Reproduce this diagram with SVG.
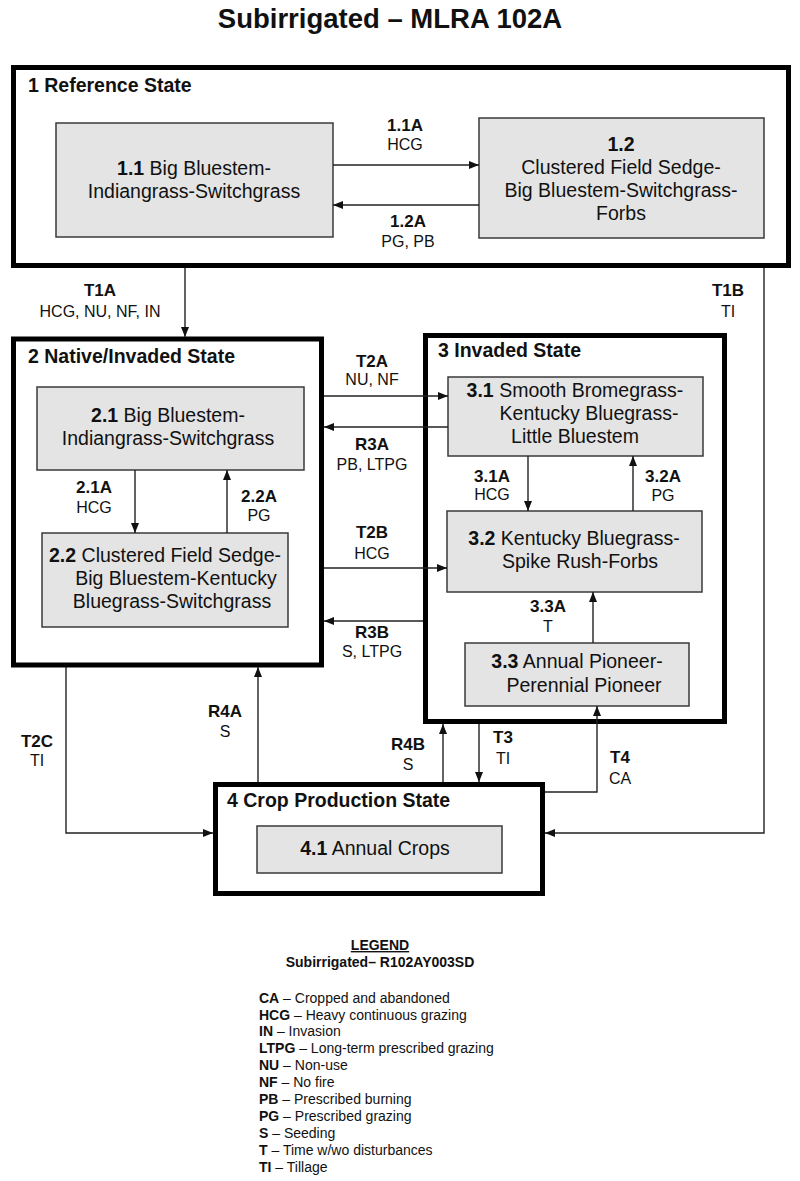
<svg xmlns="http://www.w3.org/2000/svg" width="800" height="1181" viewBox="0 0 800 1181">
<style>
text{font-family:"Liberation Sans",Arial,sans-serif;fill:#111}
.title{font-size:27.5px;font-weight:bold;text-anchor:middle}
.st{font-size:19.5px;font-weight:bold}
.node{fill:#e4e4e4;stroke:#3a3a3a;stroke-width:1.5}
.state{fill:none;stroke:#000;stroke-width:5}
.nt{font-size:19.5px;text-anchor:middle}
.b{font-weight:bold}
.lb{font-size:17px;font-weight:bold;text-anchor:middle}
.ls{font-size:16px;text-anchor:middle}
.conn path{fill:none;stroke:#222;stroke-width:1.4}
.lg{font-size:14px}
</style>
<defs>
<marker id="ah" markerUnits="userSpaceOnUse" markerWidth="10" markerHeight="10" viewBox="0 0 10 10" refX="10" refY="5" orient="auto">
<path d="M0,1 L10,5 L0,9 Z" fill="#111"/>
</marker>
</defs>
<rect width="800" height="1181" fill="#fff"/>
<text class="title" x="390" y="28">Subirrigated  – MLRA 102A</text>

<g id="state1">
<rect class="state" x="13.5" y="67.5" width="775" height="198"/>
<text class="st" x="28" y="92">1 Reference State</text>
</g>
<g id="n11">
<rect class="node" x="56" y="123" width="277" height="114"/>
<text class="nt" x="194" y="175"><tspan class="b">1.1</tspan> Big Bluestem-</text>
<text class="nt" x="194" y="198">Indiangrass-Switchgrass</text>
</g>
<g id="n12">
<rect class="node" x="479" y="118" width="285" height="120"/>
<text class="nt b" x="621" y="151">1.2</text>
<text class="nt" x="621" y="174">Clustered Field Sedge-</text>
<text class="nt" x="621" y="197">Big Bluestem-Switchgrass-</text>
<text class="nt" x="621" y="220">Forbs</text>
</g>

<g id="state2">
<rect class="state" x="13.5" y="339" width="308" height="326"/>
<text class="st" x="28" y="363">2 Native/Invaded State</text>
</g>
<g id="n21">
<rect class="node" x="37" y="387" width="267" height="83"/>
<text class="nt" x="168" y="422"><tspan class="b">2.1</tspan> Big Bluestem-</text>
<text class="nt" x="168" y="445">Indiangrass-Switchgrass</text>
</g>
<g id="n22">
<rect class="node" x="42" y="533" width="246" height="94"/>
<text class="nt" x="165" y="562"><tspan class="b">2.2</tspan>  Clustered Field Sedge-</text>
<text class="nt" x="176" y="585">Big Bluestem-Kentucky</text>
<text class="nt" x="172" y="608">Bluegrass-Switchgrass</text>
</g>

<g id="state3">
<rect class="state" x="425.5" y="335.5" width="299" height="386"/>
<text class="st" x="438" y="357">3 Invaded State</text>
</g>
<g id="n31">
<rect class="node" x="448" y="377" width="255" height="79"/>
<text class="nt" x="575" y="397"><tspan class="b">3.1</tspan> Smooth Bromegrass-</text>
<text class="nt" x="589" y="420">Kentucky Bluegrass-</text>
<text class="nt" x="575" y="443">Little Bluestem</text>
</g>
<g id="n32">
<rect class="node" x="447" y="511" width="255" height="81"/>
<text class="nt" x="574" y="545"><tspan class="b">3.2</tspan> Kentucky Bluegrass-</text>
<text class="nt" x="580" y="568">Spike Rush-Forbs</text>
</g>
<g id="n33">
<rect class="node" x="465" y="643" width="224" height="63"/>
<text class="nt" x="577" y="668"><tspan class="b">3.3</tspan> Annual Pioneer-</text>
<text class="nt" x="584" y="692">Perennial Pioneer</text>
</g>

<g id="state4">
<rect class="state" x="215.5" y="784.5" width="327" height="109"/>
<text class="st" x="227" y="807">4 Crop Production State</text>
</g>
<g id="n41">
<rect class="node" x="257" y="826" width="245" height="47"/>
<text class="nt" x="375" y="855"><tspan class="b">4.1</tspan> Annual Crops</text>
</g>

<g class="conn" id="connectors">
<path d="M333,165 H479" marker-end="url(#ah)"/>
<path d="M479,205 H333" marker-end="url(#ah)"/>
<path d="M185,268 V337" marker-end="url(#ah)"/>
<path d="M764,268 V833 H545" marker-end="url(#ah)"/>
<path d="M324,396 H448" marker-end="url(#ah)"/>
<path d="M448,427 H324" marker-end="url(#ah)"/>
<path d="M324,568 H447" marker-end="url(#ah)"/>
<path d="M423,621 H324" marker-end="url(#ah)"/>
<path d="M135,470 V533" marker-end="url(#ah)"/>
<path d="M227,533 V470" marker-end="url(#ah)"/>
<path d="M528,456 V511" marker-end="url(#ah)"/>
<path d="M633,511 V456" marker-end="url(#ah)"/>
<path d="M593,643 V592" marker-end="url(#ah)"/>
<path d="M66,667 V833 H213" marker-end="url(#ah)"/>
<path d="M258,782 V667" marker-end="url(#ah)"/>
<path d="M443,782 V724" marker-end="url(#ah)"/>
<path d="M479,724 V782" marker-end="url(#ah)"/>
<path d="M545,792 H597 V706" marker-end="url(#ah)"/>
</g>

<g id="labels">
<text class="lb" x="405" y="131">1.1A</text><text class="ls" x="405" y="150">HCG</text>
<text class="lb" x="408" y="227">1.2A</text><text class="ls" x="408" y="247">PG, PB</text>
<text class="lb" x="100" y="296">T1A</text><text class="ls" x="100" y="317">HCG, NU, NF, IN</text>
<text class="lb" x="728" y="296">T1B</text><text class="ls" x="728" y="317">TI</text>
<text class="lb" x="372" y="367">T2A</text><text class="ls" x="372" y="385">NU, NF</text>
<text class="lb" x="372" y="450">R3A</text><text class="ls" x="372" y="470">PB, LTPG</text>
<text class="lb" x="372" y="538">T2B</text><text class="ls" x="372" y="559">HCG</text>
<text class="lb" x="372" y="638">R3B</text><text class="ls" x="372" y="657">S, LTPG</text>
<text class="lb" x="94" y="493">2.1A</text><text class="ls" x="94" y="513">HCG</text>
<text class="lb" x="259" y="502">2.2A</text><text class="ls" x="259" y="521">PG</text>
<text class="lb" x="492" y="482">3.1A</text><text class="ls" x="492" y="500">HCG</text>
<text class="lb" x="663" y="482">3.2A</text><text class="ls" x="663" y="501">PG</text>
<text class="lb" x="548" y="612">3.3A</text><text class="ls" x="548" y="632">T</text>
<text class="lb" x="37" y="747">T2C</text><text class="ls" x="37" y="766">TI</text>
<text class="lb" x="225" y="717">R4A</text><text class="ls" x="225" y="737">S</text>
<text class="lb" x="408" y="750">R4B</text><text class="ls" x="408" y="770">S</text>
<text class="lb" x="503" y="743">T3</text><text class="ls" x="503" y="764">TI</text>
<text class="lb" x="620" y="763">T4</text><text class="ls" x="620" y="784">CA</text>
</g>

<g id="legend">
<text class="lg b" x="380" y="950" text-anchor="middle" text-decoration="underline">LEGEND</text>
<text class="lg b" x="380" y="967" text-anchor="middle">Subirrigated– R102AY003SD</text>
<text class="lg" x="259" y="1003"><tspan class="b">CA</tspan> – Cropped and abandoned</text>
<text class="lg" x="259" y="1020"><tspan class="b">HCG</tspan>  – Heavy continuous grazing</text>
<text class="lg" x="259" y="1036"><tspan class="b">IN</tspan> – Invasion</text>
<text class="lg" x="259" y="1053"><tspan class="b">LTPG</tspan> – Long-term prescribed grazing</text>
<text class="lg" x="259" y="1070"><tspan class="b">NU</tspan>  – Non-use</text>
<text class="lg" x="259" y="1087"><tspan class="b">NF</tspan>  – No  fire</text>
<text class="lg" x="259" y="1104"><tspan class="b">PB</tspan>  – Prescribed burning</text>
<text class="lg" x="259" y="1121"><tspan class="b">PG</tspan>  – Prescribed grazing</text>
<text class="lg" x="259" y="1138"><tspan class="b">S</tspan> – Seeding</text>
<text class="lg" x="259" y="1155"><tspan class="b">T</tspan> – Time  w/wo disturbances</text>
<text class="lg" x="259" y="1172"><tspan class="b">TI</tspan> – Tillage</text>
</g>
</svg>
